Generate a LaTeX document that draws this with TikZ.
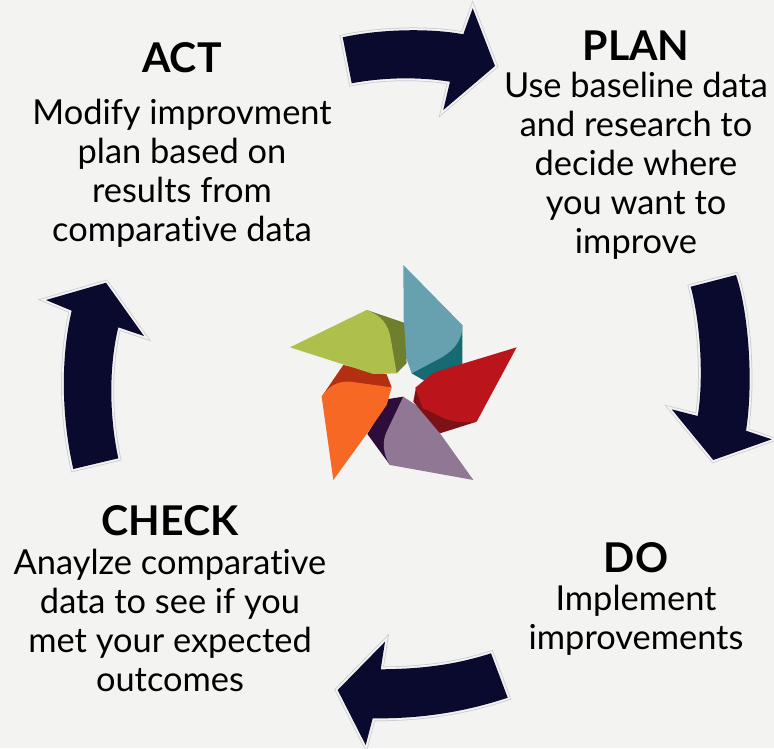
\documentclass[tikz,border=0pt]{standalone}
\usepackage{fontspec}
\setmainfont[Ligatures=NoCommon]{Lato}
\definecolor{bgc}{HTML}{F3F3F2}
\definecolor{navy}{HTML}{0A0A2E}
\definecolor{rimc}{HTML}{C9C9D3}
\definecolor{tealL}{HTML}{67A1AF}
\definecolor{tealD}{HTML}{156B71}
\definecolor{redL}{HTML}{BB141B}
\definecolor{redD}{HTML}{7C1216}
\definecolor{purpL}{HTML}{907895}
\definecolor{purpD}{HTML}{2F0D3B}
\definecolor{orL}{HTML}{F76825}
\definecolor{orD}{HTML}{B22F12}
\definecolor{grL}{HTML}{AFBF4C}
\definecolor{grD}{HTML}{6E7F2D}
\tikzset{
  x=1pt,y=-1pt,
  blocktext/.style={align=center,font=\fontsize{34.4}{39}\selectfont,inner sep=0pt,text=black},
  titletext/.style={font=\fontsize{41}{39}\selectfont\bfseries,inner sep=0pt,text=black},
  arrowrim/.style={draw=rimc,line width=5.5pt,line join=miter,miter limit=10},
  arrowgap/.style={draw=bgc,line width=4pt,line join=miter,miter limit=10},
  arrowbody/.style={fill=navy},
}
\newcommand{\bigarrow}[1]{%
  \path[arrowrim] #1;
  \path[arrowgap] #1;
  \path[arrowbody] #1;
}
\begin{document}
\begin{tikzpicture}
\useasboundingbox[fill=bgc] (0,0) rectangle (774,748);
\bigarrow{(342.7,37.3) .. controls (380,29) and (430,28) .. (463.3,34.3) -- (472.7,8.3) -- (495,66) -- (443.3,110) -- (450,81.7) .. controls (420,77) and (385,77) .. (351.7,83.3) -- cycle}
\bigarrow{(690.7,286.7) -- (736,275) .. controls (748,310) and (754,380) .. (746,430.7) -- (771.7,439.3) -- (713.3,460) -- (671.7,409.3) -- (697.7,416) .. controls (703,385) and (702,330) .. (690.7,286.7) -- cycle}
\bigarrow{(491,653.3) -- (507.7,697.7) .. controls (465,712) and (420,719) .. (372.7,718.3) -- (365.7,745) -- (337.7,690) -- (385,641.7) -- (380.7,669.3) .. controls (420,669) and (455,665) .. (491,653.3) -- cycle}
\bigarrow{(73.3,469) -- (118.3,458.3) .. controls (110,420) and (108,370) .. (118.3,327.3) -- (144,336) -- (106,282.7) -- (46,300) -- (71.7,310.7) .. controls (60,360) and (62,420) .. (73.3,469) -- cycle}
\begin{scope}[shift={(280,255)},x=0.3333pt,y=-0.3333pt]
  % teal
  \fill[tealD] (547,210) -- (547,330) -- (435,378) -- (395,355) -- (450,250) -- cycle;
  \fill[tealL] (370,30) -- (547,210) -- (545,235) .. controls (535,270) and (515,290) .. (480,310) -- (395,355) -- (372,290) -- cycle;
  % purple
  \fill[purpD] (370,425) -- (325,432) -- (262,537) -- (330,630) -- cycle;
  \fill[purpL] (580,675) -- (330,630) .. controls (310,600) and (305,560) .. (320,530) -- (370,425) -- (430,465) -- cycle;
  % orange
  \fill[orD] (125,425) -- (190,330) -- (320,358) -- (335,397) -- (200,420) -- cycle;
  \fill[orL] (160,675) -- (125,425) .. controls (145,395) and (170,378) .. (210,380) -- (335,397) -- (320,450) -- (265,530) -- cycle;
  % green
  \fill[grD] (260,165) -- (372,203) -- (380,325) -- (350,355) -- (310,260) -- cycle;
  \fill[grL] (30,277) -- (260,165) .. controls (300,180) and (325,205) .. (332,250) -- (350,355) -- (280,357) -- cycle;
  % red
  \fill[redD] (408,398) -- (400,440) -- (480,535) -- (590,500) -- (500,440) -- cycle;
  \fill[redL] (710,277) -- (470,350) .. controls (450,358) and (430,380) .. (406,398) -- (428,460) .. controls (480,478) and (500,510) .. (590,500) -- cycle;
\end{scope}
\node[titletext] (acttitle) at (182,58) {ACT};
\node[blocktext] (actbody) at (182,173) {Modify improvment\\plan based on\\results from\\comparative data};
\node[titletext] (plantitle) at (636,46) {PLAN};
\node[blocktext] (planbody) at (636,166) {Use baseline data\\and research to\\decide where\\you want to\\improve};
\node[titletext] (dotitle) at (636,558) {DO};
\node[blocktext] (dobody) at (636,620) {Implement\\improvements};
\node[titletext] (checktitle) at (170,521) {CHECK};
\node[blocktext] (checkbody) at (170,620) {Anaylze comparative\\data to see if you\\met your expected\\outcomes};
\end{tikzpicture}
\end{document}
